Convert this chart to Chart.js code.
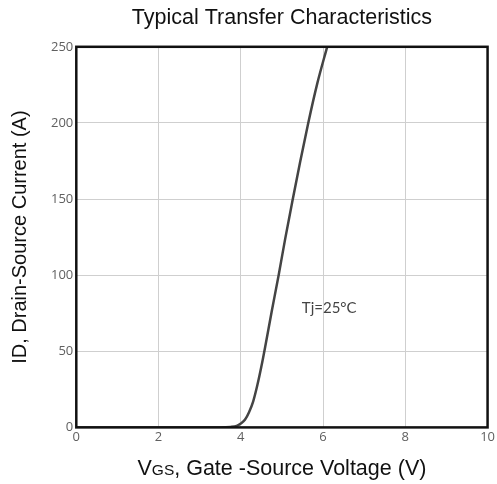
<!DOCTYPE html>
<html>
<head>
<meta charset="utf-8">
<script src="https://cdn.jsdelivr.net/npm/chart.js@4/dist/chart.umd.min.js"></script>
<style>
  body { margin: 0; background: #fff; }
  #wrap { width: 497px; height: 484px; }
</style>
</head>
<body>
<div id="wrap"><canvas id="c" width="497" height="484"></canvas></div>
<script>
'use strict';

// V_GS (V)
const vgs = [0, 3.5, 3.75, 3.9, 4.0, 4.1, 4.2, 4.3, 4.4, 4.5, 4.6, 4.75, 4.92, 5.08, 5.25, 5.44, 5.64, 5.86, 6.1];
// I_D (A) at each V_GS
const idAmps = [0, 0, 0.3, 1, 2.5, 5, 10, 17, 27.5, 40, 54, 76, 100, 124, 148, 174, 200, 226, 250];
const xTicks = [0, 2, 4, 6, 8, 10];
const yTicks = [0, 50, 100, 150, 200, 250];
const note = { x: 6.15, y: 78, text: 'Tj=25°C' };

const points = vgs.map((v, i) => ({ x: v, y: idAmps[i] }));
const titleFont = '"Liberation Sans", Arial, sans-serif';

// black frame, temperature note and the x title with its small "GS"
const framePlugin = {
  id: 'frame',
  afterDatasetsDraw(chart) {
    const { ctx, chartArea: a, scales } = chart;
    ctx.save();
    ctx.strokeStyle = '#111';
    ctx.lineWidth = 2.5;
    ctx.strokeRect(a.left, a.top, a.right - a.left, a.bottom - a.top);

    ctx.fillStyle = '#444';
    ctx.font = '15px Lato, sans-serif';
    ctx.textAlign = 'center';
    ctx.textBaseline = 'middle';
    ctx.fillText(note.text, scales.x.getPixelForValue(note.x), scales.y.getPixelForValue(note.y));

    // x axis title
    const parts = [['V', 21.5], ['GS', 15.5], [', Gate -Source Voltage (V)', 21.5]];
    let total = 0;
    parts.forEach(([t, s]) => { ctx.font = s + 'px ' + titleFont; total += ctx.measureText(t).width; });
    let x = (a.left + a.right) / 2 - total / 2;
    const base = a.bottom + 48;
    ctx.fillStyle = '#111';
    ctx.textAlign = 'left';
    ctx.textBaseline = 'alphabetic';
    parts.forEach(([t, s]) => {
      ctx.font = s + 'px ' + titleFont;
      ctx.fillText(t, x, base);
      x += ctx.measureText(t).width;
    });
    ctx.restore();
  }
};

const tickFont = { size: 13, family: '"Open Sans", sans-serif' };

new Chart(document.getElementById('c').getContext('2d'), {
  type: 'scatter',
  data: {
    datasets: [{
      data: points,
      showLine: true,
      cubicInterpolationMode: 'monotone',
      borderColor: '#444',
      borderWidth: 2.5,
      pointRadius: 0
    }]
  },
  options: {
    responsive: false,
    animation: false,
    layout: { padding: { left: 8, right: 2, top: 2, bottom: 37 } },
    scales: {
      x: {
        type: 'linear',
        min: 0,
        max: 10,
        afterBuildTicks: s => { s.ticks = xTicks.map(v => ({ value: v })); },
        grid: { color: '#cfcfcf', tickLength: 0 },
        border: { display: false },
        ticks: { color: '#606060', font: tickFont, padding: 2 }
      },
      y: {
        type: 'linear',
        min: 0,
        max: 250,
        afterBuildTicks: s => { s.ticks = yTicks.map(v => ({ value: v })); },
        grid: { color: '#cfcfcf', tickLength: 0 },
        border: { display: false },
        ticks: { color: '#606060', font: tickFont, padding: 3 },
        title: {
          display: true,
          text: 'ID, Drain-Source Current (A)',
          color: '#111',
          font: { size: 20, family: titleFont },
          padding: { top: 0, bottom: 16 }
        }
      }
    },
    plugins: {
      legend: { display: false },
      tooltip: { enabled: false },
      title: {
        display: true,
        text: 'Typical Transfer Characteristics',
        color: '#111',
        fullSize: false,
        font: { size: 21.5, weight: 'normal', family: titleFont },
        padding: { top: 3, bottom: 16 }
      }
    }
  },
  plugins: [framePlugin]
});
</script>
</body>
</html>
